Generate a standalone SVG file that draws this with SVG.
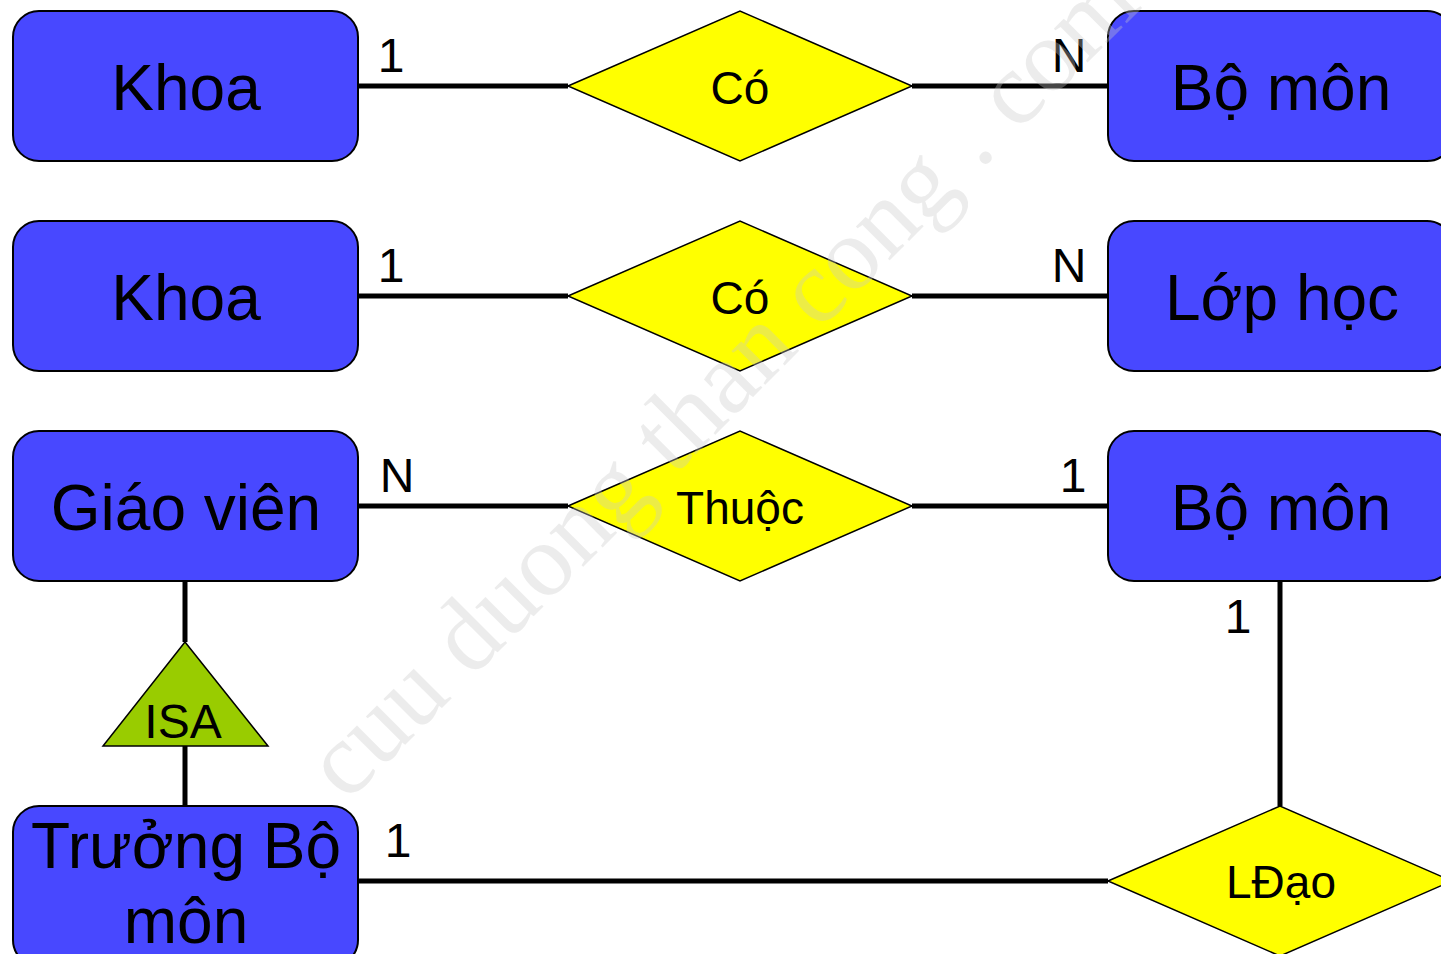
<svg xmlns="http://www.w3.org/2000/svg" width="1441" height="954" viewBox="0 0 1441 954">
<style>
.ent{fill:#4848FF;stroke:#000;stroke-width:2}
.rel{fill:#FFFF00;stroke:#000;stroke-width:1.5}
.isa{fill:#99CC00;stroke:#000;stroke-width:1.5}
.ln{stroke:#000;stroke-width:5;fill:none}
.t{font-family:"Liberation Sans",Arial,sans-serif;fill:#000;text-anchor:middle}
.et{font-size:64px}
.rt{font-size:46px}
.ct{font-size:48px}
.wm{font-family:"Liberation Serif","Times New Roman",serif;font-size:104px;fill:#c8c8c8;fill-opacity:0.35;text-anchor:middle}
</style>
<rect width="1441" height="954" fill="#fff"/>
<g id="connectors">
<line class="ln" x1="358" y1="86" x2="568" y2="86"/>
<line class="ln" x1="912" y1="86" x2="1108" y2="86"/>
<line class="ln" x1="358" y1="296" x2="568" y2="296"/>
<line class="ln" x1="912" y1="296" x2="1108" y2="296"/>
<line class="ln" x1="358" y1="506" x2="568" y2="506"/>
<line class="ln" x1="912" y1="506" x2="1108" y2="506"/>
<line class="ln" x1="1280" y1="581" x2="1280" y2="806"/>
<line class="ln" x1="358" y1="881" x2="1108" y2="881"/>
<line class="ln" x1="185" y1="581" x2="185" y2="642"/>
<line class="ln" x1="185" y1="746" x2="185" y2="806"/>
<text class="t ct" x="391" y="72">1</text>
<text class="t ct" x="1069" y="72">N</text>
<text class="t ct" x="391" y="282">1</text>
<text class="t ct" x="1069" y="282">N</text>
<text class="t ct" x="397" y="492">N</text>
<text class="t ct" x="1073" y="492">1</text>
<text class="t ct" x="1238" y="633">1</text>
<text class="t ct" x="398" y="857">1</text>
</g>
<g id="khoa1"><rect class="ent" x="13" y="11" width="345" height="150" rx="26"/><text class="t et" x="186" y="110">Khoa</text></g>
<g id="co1"><polygon class="rel" points="568,86 740,11 912,86 740,161"/><text class="t rt" x="740" y="104">Có</text></g>
<g id="bomon1"><rect class="ent" x="1108" y="11" width="345" height="150" rx="26"/><text class="t et" x="1281" y="110">Bộ môn</text></g>
<g id="khoa2"><rect class="ent" x="13" y="221" width="345" height="150" rx="26"/><text class="t et" x="186" y="320">Khoa</text></g>
<g id="co2"><polygon class="rel" points="568,296 740,221 912,296 740,371"/><text class="t rt" x="740" y="314">Có</text></g>
<g id="lophoc"><rect class="ent" x="1108" y="221" width="345" height="150" rx="26"/><text class="t et" x="1282" y="320">Lớp học</text></g>
<g id="giaovien"><rect class="ent" x="13" y="431" width="345" height="150" rx="26"/><text class="t et" x="186" y="530">Giáo viên</text></g>
<g id="thuoc"><polygon class="rel" points="568,506 740,431 912,506 740,581"/><text class="t rt" x="740" y="524">Thuộc</text></g>
<g id="bomon2"><rect class="ent" x="1108" y="431" width="345" height="150" rx="26"/><text class="t et" x="1281" y="530">Bộ môn</text></g>
<g id="isa"><polygon class="isa" points="185,642 268,746 103,746"/><text class="t ct" x="183" y="738">ISA</text></g>
<g id="truongbomon"><rect class="ent" x="13" y="806" width="345" height="160" rx="26"/><text class="t et" x="186" y="868">Trưởng Bộ</text><text class="t et" x="186" y="943">môn</text></g>
<g id="ldao"><polygon class="rel" points="1108,881 1280,806 1452,881 1280,956"/><text class="t rt" x="1281" y="898">LĐạo</text></g>
<text class="wm" transform="translate(745,405) rotate(-45)">cuu duong than cong . com</text>
</svg>
